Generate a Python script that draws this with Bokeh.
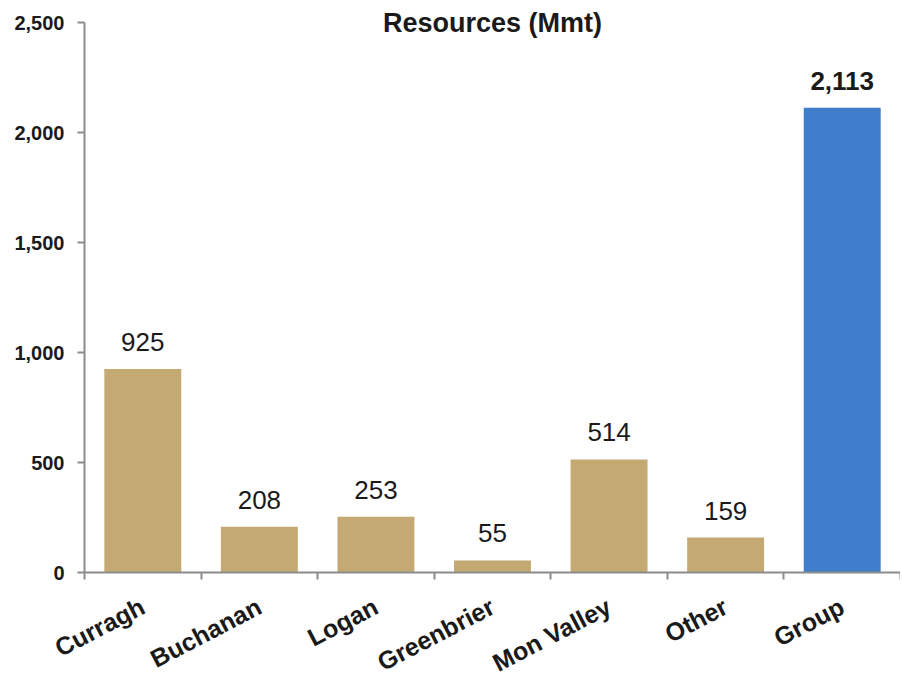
from bokeh.plotting import figure
from bokeh.models import (ColumnDataSource, Range1d, LinearAxis, FixedTicker, NumeralTickFormatter, Label)
from bokeh.core.properties import value
from bokeh.embed import file_html
from bokeh.resources import INLINE

categories = ["Curragh", "Buchanan", "Logan", "Greenbrier", "Mon Valley", "Other", "Group"]
values = [925, 208, 253, 55, 514, 159, 2113]
y_ticks = [0, 500, 1000, 1500, 2000, 2500]
title_text = "Resources (Mmt)"

TAN = "#C5A973"
BLUE = "#3F7ECA"
AXIS = "#8C8C8C"
TEXT = "#1A1A1A"
FONT = "Liberation Sans"

n = len(categories)

# layout (pixels): value axis 0..2500 spans page y 572..22; categories span page x 84..900
W, H = 900, 674
Y_TOP_PX, Y_ZERO_PX = 22, 572
X_ZERO_PX = 84
y_max = y_ticks[-1]
y_per_px = y_max / (Y_ZERO_PX - Y_TOP_PX)
y_start = -(H - Y_ZERO_PX) * y_per_px
y_end = y_max + Y_TOP_PX * y_per_px
x_per_px = n / (W - X_ZERO_PX)
x_start = -X_ZERO_PX * x_per_px

xpos = [i + 0.5 for i in range(n)]
bounds = list(range(n + 1))
colors = [BLUE if c == "Group" else TAN for c in categories]
styles = ["bold" if c == "Group" else "normal" for c in categories]
labels = [f"{v:,}" for v in values]

src = ColumnDataSource(dict(x=xpos, val=values, color=colors, style=styles, label=labels))

p = figure(width=W, height=H, x_range=Range1d(x_start, n), y_range=Range1d(y_start, y_end),
           x_axis_location=None, y_axis_location=None,
           output_backend="svg", toolbar_location=None,
           min_border_left=0, min_border_right=0, min_border_top=0, min_border_bottom=0)
p.outline_line_color = None
p.background_fill_color = "white"
p.border_fill_color = "white"
p.grid.visible = False

p.vbar(x="x", top="val", width=0.66, color="color", source=src, line_color=None)

p.text(x="x", y="val", text="label", source=src, text_font=value(FONT), text_font_size="26px",
       text_font_style="style", text_color=TEXT, text_align="center", text_baseline="alphabetic",
       y_offset=-27)

# y axis at x = 0
yax = LinearAxis(ticker=FixedTicker(ticks=y_ticks), formatter=NumeralTickFormatter(format="0,0"),
                 bounds=(0, y_max), fixed_location=0)
yax.axis_line_color = AXIS
yax.axis_line_width = 2
yax.major_tick_line_color = AXIS
yax.major_tick_line_width = 2
yax.major_tick_out = 7
yax.major_tick_in = 0
yax.minor_tick_line_color = None
yax.major_label_standoff = 13
yax.major_label_text_font = FONT
yax.major_label_text_font_size = "20px"
yax.major_label_text_font_style = "bold"
yax.major_label_text_color = TEXT
p.add_layout(yax, "left")

# x axis at y = 0: labels at category centres, (minor) ticks between categories
xax = LinearAxis(ticker=FixedTicker(ticks=xpos, minor_ticks=bounds), fixed_location=0,
                 bounds=(0, n),
                 major_label_overrides={x: c for x, c in zip(xpos, categories)})
xax.axis_line_color = AXIS
xax.axis_line_width = 2
xax.major_tick_line_color = None
xax.major_tick_out = 0
xax.major_tick_in = 0
xax.minor_tick_line_color = AXIS
xax.minor_tick_line_width = 2
xax.minor_tick_out = 7
xax.minor_tick_in = 0
xax.major_label_standoff = 25
xax.major_label_orientation = 0.48
xax.major_label_text_font = FONT
xax.major_label_text_font_size = "25px"
xax.major_label_text_font_style = "bold"
xax.major_label_text_color = TEXT
p.add_layout(xax, "below")

title = Label(x=n / 2, y=y_max, text=title_text, text_font=FONT,
              text_font_size="27px", text_font_style="bold", text_color=TEXT,
              text_align="center", text_baseline="middle")
p.add_layout(title)

open("out.html", "w").write(file_html(p, INLINE))
